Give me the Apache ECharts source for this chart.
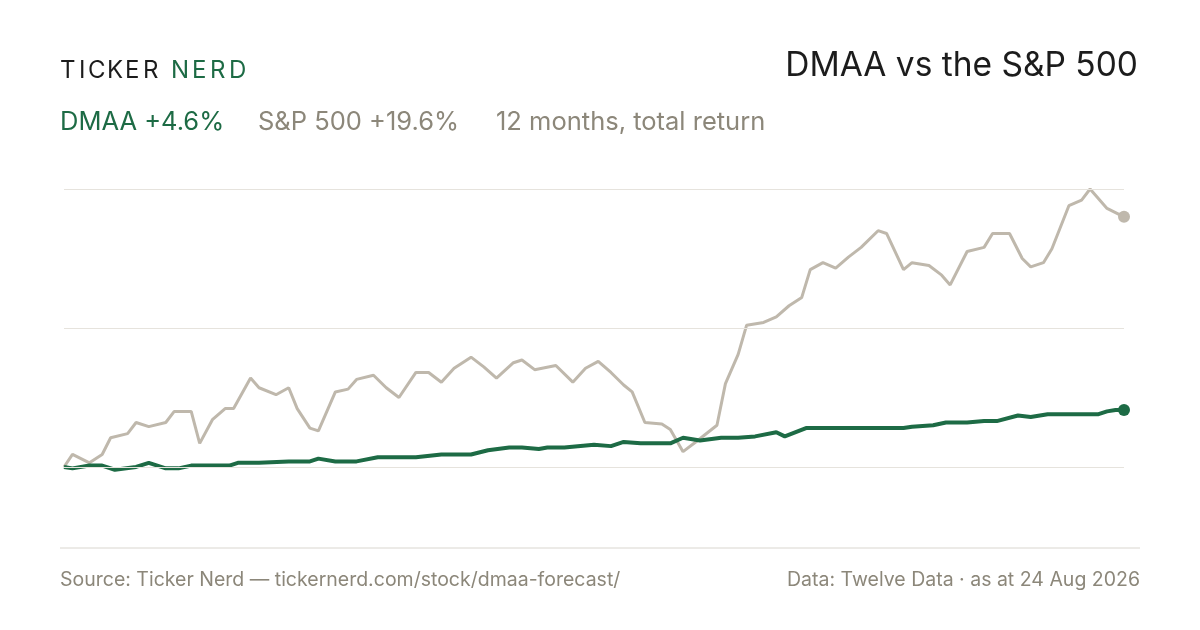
<!DOCTYPE html>
<html><head><meta charset="utf-8">
<script src="https://cdn.jsdelivr.net/npm/echarts@6/dist/echarts.min.js"></script>
<style>html,body{margin:0;padding:0;background:#fff}#c{width:1200px;height:630px}</style>
</head><body><div id="c"></div>
<script>
const spDays=[0,2,6,9,11,15,17,20,24,26,30,32,35,38,40,44,46,50,53,55,58,60,64,67,69,73,76,79,83,86,89,92,96,99,102,106,108,111,116,120,123,126,129,132,134,137,141,143,146,149,154,156,159,161,165,168,171,174,176,179,182,185,188,192,194,198,200,204,207,209,213,217,219,223,226,228,231,233,237,240,242,246,250];
const spVals=[0.0,0.9,0.3,0.9,2.1,2.4,3.2,2.9,3.2,4.0,4.0,1.7,3.4,4.2,4.2,6.4,5.7,5.2,5.7,4.2,2.8,2.6,5.4,5.6,6.3,6.6,5.7,5.0,6.8,6.8,6.1,7.1,7.9,7.2,6.4,7.5,7.7,7.0,7.3,6.1,7.1,7.6,6.8,5.9,5.4,3.2,3.1,2.7,1.1,1.8,3.0,6.0,8.1,10.2,10.4,10.8,11.6,12.2,14.2,14.7,14.3,15.1,15.8,17.0,16.8,14.2,14.7,14.5,13.8,13.1,15.5,15.8,16.8,16.8,15.0,14.4,14.7,15.7,18.8,19.2,20.0,18.6,18.0];
const dmDays=[0,2,6,9,12,17,20,24,27,30,33,36,39,41,46,53,58,60,64,69,74,83,89,96,100,105,108,112,114,118,125,129,132,136,143,146,150,155,159,163,168,170,175,193,198,200,205,208,213,217,220,225,228,232,244,246,248,250];
const dmVals=[0,-0.1,0.1,0.1,-0.2,0.0,0.3,-0.1,-0.1,0.1,0.1,0.1,0.1,0.3,0.3,0.4,0.4,0.6,0.4,0.4,0.7,0.7,0.9,0.9,1.2,1.4,1.4,1.3,1.4,1.4,1.6,1.5,1.8,1.7,1.7,2.1,1.9,2.1,2.1,2.2,2.5,2.2,2.8,2.8,2.8,2.9,3.0,3.2,3.2,3.3,3.3,3.7,3.6,3.8,3.8,4.0,4.1,4.1];
const gridVals=[0,10,20];
const GREEN='#1d6b45', GREY='#bfb8ac', TXT='#8c877a';
const zip=(a,b)=>a.map((d,i)=>[d,b[i]]);
const last=(a,b)=>[a[a.length-1],b[b.length-1]];
const logo=[];
const tx=[60,79,88,107,125,143], nx=[171,192,210,229];
'TICKER'.split('').forEach((ch,i)=>logo.push({type:'text',left:tx[i],top:59,style:{text:ch,font:'400 24px Inter',fill:'#1c1c1c'}}));
'NERD'.split('').forEach((ch,i)=>logo.push({type:'text',left:nx[i],top:59,style:{text:ch,font:'400 24px Inter',fill:GREEN}}));
const chart=echarts.init(document.getElementById('c'));
chart.setOption({
  animation:false,
  grid:{left:64,right:76,top:189,bottom:82},
  xAxis:{type:'value',min:0,max:250,show:false},
  yAxis:{type:'value',min:-5.83,max:20,show:false},
  graphic:logo.concat([
    {type:'text',right:62,top:49,style:{text:'DMAA vs the S&P 500',font:'33.5px Inter',fill:'#1c1c1c'}},
    {type:'text',left:60,top:109,style:{text:'DMAA +4.6%',font:'25.5px Inter',fill:GREEN}},
    {type:'text',left:258,top:109,style:{text:'S&P 500 +19.6%',font:'25.5px Inter',fill:TXT}},
    {type:'text',left:496,top:109,style:{text:'12 months, total return',font:'25.5px Inter',fill:TXT}},
    {type:'line',shape:{x1:60,y1:548,x2:1140,y2:548},style:{stroke:'#d9d6cf',lineWidth:1}},
    {type:'text',left:60,top:570,style:{text:'Source: Ticker Nerd — tickernerd.com/stock/dmaa-forecast/',font:'19.5px Inter',fill:TXT}},
    {type:'text',right:60,top:570,style:{text:'Data: Twelve Data · as at 24 Aug 2026',font:'19.5px Inter',fill:TXT}}
  ]),
  series:[
    {type:'line',data:zip(spDays,spVals),showSymbol:false,lineStyle:{color:GREY,width:3},itemStyle:{color:GREY},
     markLine:{silent:true,symbol:'none',label:{show:false},lineStyle:{color:'#e6e3dd',width:1,type:'solid'},data:gridVals.map(v=>({yAxis:v}))},
     markPoint:{symbol:'circle',symbolSize:12,label:{show:false},itemStyle:{color:GREY},data:[{coord:last(spDays,spVals)}]},z:2},
    {type:'line',data:zip(dmDays,dmVals),showSymbol:false,lineStyle:{color:GREEN,width:4},itemStyle:{color:GREEN},
     markPoint:{symbol:'circle',symbolSize:12,label:{show:false},itemStyle:{color:GREEN},data:[{coord:last(dmDays,dmVals)}]},z:3}
  ]
});
</script></body></html>
